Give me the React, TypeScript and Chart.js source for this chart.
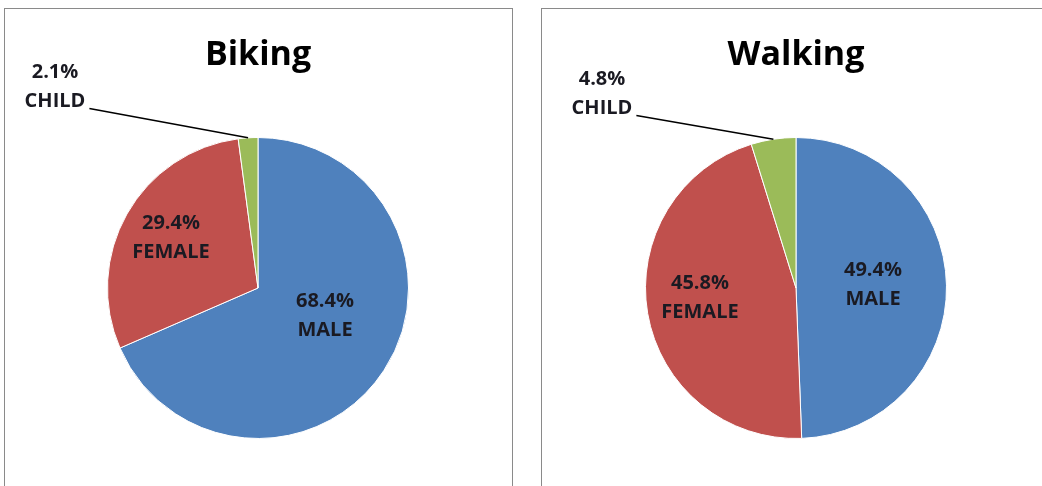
import React, { useEffect, useRef } from "react";
import { Chart, registerables } from "chart.js";

Chart.register(...registerables);

const categories = ["MALE", "FEMALE", "CHILD"];
const bikingValues = [68.4, 29.4, 2.1];
const walkingValues = [49.4, 45.8, 4.8];
const sliceColors = ["#4F81BD", "#C0504D", "#9BBB59"];

const labelPlugin = {
  id: "pieLabels",
  afterDraw(chart: any, _args: any, opts: any) {
    const ctx = chart.ctx as CanvasRenderingContext2D;
    const meta = chart.getDatasetMeta(0);
    const values = chart.data.datasets[0].data as number[];
    const labels = chart.data.labels as string[];
    const a0 = meta.data[0].getProps(["x", "y", "outerRadius"], true);
    const cx = a0.x, cy = a0.y, r = a0.outerRadius;
    ctx.save();
    ctx.fillStyle = "#000";
    ctx.textAlign = "center";
    ctx.textBaseline = "alphabetic";
    ctx.font = 'bold 34px "Open Sans"';
    ctx.fillText(opts.title, cx, opts.titleY);

    ctx.font = 'bold 20px "Open Sans"';
    ctx.textBaseline = "middle";
    ctx.fillStyle = "#1a1a22";
    const gap = 14.5;
    opts.offsets.forEach((off: number[], i: number) => {
      const x = cx + off[0];
      const y = cy + off[1];
      ctx.fillText(values[i].toFixed(1) + "%", x, y - gap);
      ctx.fillText(labels[i], x, y + gap);
      if (i === opts.leaderIndex) {
        const arc = meta.data[i].getProps(["startAngle", "endAngle"], true);
        const mid = (arc.startAngle + arc.endAngle) / 2;
        const ex = cx + Math.cos(mid) * r;
        const ey = cy + Math.sin(mid) * r;
        const w = ctx.measureText(labels[i]).width;
        const sx = x + w / 2 + 4;
        const sy = y + gap + 7;
        ctx.beginPath();
        ctx.strokeStyle = "#000";
        ctx.lineWidth = 1.5;
        ctx.moveTo(sx, sy);
        ctx.lineTo(ex, ey);
        ctx.stroke();
      }
    });
    ctx.restore();
  },
};

type PieProps = {
  title: string;
  values: number[];
  width: number;
  height: number;
  padding: { left: number; right: number; top: number; bottom: number };
  offsets: number[][];
};

function PieBox({ title, values, width, height, padding, offsets }: PieProps) {
  const ref = useRef<HTMLCanvasElement | null>(null);
  useEffect(() => {
    if (!ref.current) return;
    const chart = new Chart(ref.current, {
      type: "pie",
      data: {
        labels: categories,
        datasets: [
          {
            data: values,
            backgroundColor: sliceColors,
            borderColor: "#ffffff",
            borderWidth: 1,
          },
        ],
      },
      options: {
        animation: false,
        responsive: false,
        maintainAspectRatio: false,
        layout: { padding },
        plugins: {
          legend: { display: false },
          tooltip: { enabled: false },
          pieLabels: { title, titleY: 56, offsets, leaderIndex: 2 },
        } as any,
      },
      plugins: [labelPlugin],
    });
    return () => chart.destroy();
  }, [title, values, width, height, padding, offsets]);
  return <canvas ref={ref} width={width} height={height} style={{ display: "block" }} />;
}

const bikingPadding = { left: 102, right: 103, top: 128, bottom: 47 };
const walkingPadding = { left: 103, right: 95, top: 128, bottom: 47 };
const bikingOffsets = [[67, 28], [-87, -50], [-203, -201]];
const walkingOffsets = [[77, -3], [-96, 10], [-194, -194]];

const boxStyle: React.CSSProperties = {
  position: "absolute",
  top: 8,
  height: 520,
  border: "1px solid #8a8a8a",
  background: "#fff",
  overflow: "hidden",
};

export default function App() {
  return (
    <div
      style={{
        position: "fixed",
        left: 0,
        top: 0,
        width: 1042,
        height: 486,
        overflow: "hidden",
        background: "#fff",
      }}
    >
      <div style={{ ...boxStyle, left: 4, width: 507 }}>
        <PieBox
          title="Biking"
          values={bikingValues}
          width={507}
          height={477}
          padding={bikingPadding}
          offsets={bikingOffsets}
        />
      </div>
      <div style={{ ...boxStyle, left: 541, width: 600 }}>
        <PieBox
          title="Walking"
          values={walkingValues}
          width={500}
          height={477}
          padding={walkingPadding}
          offsets={walkingOffsets}
        />
      </div>
    </div>
  );
}
